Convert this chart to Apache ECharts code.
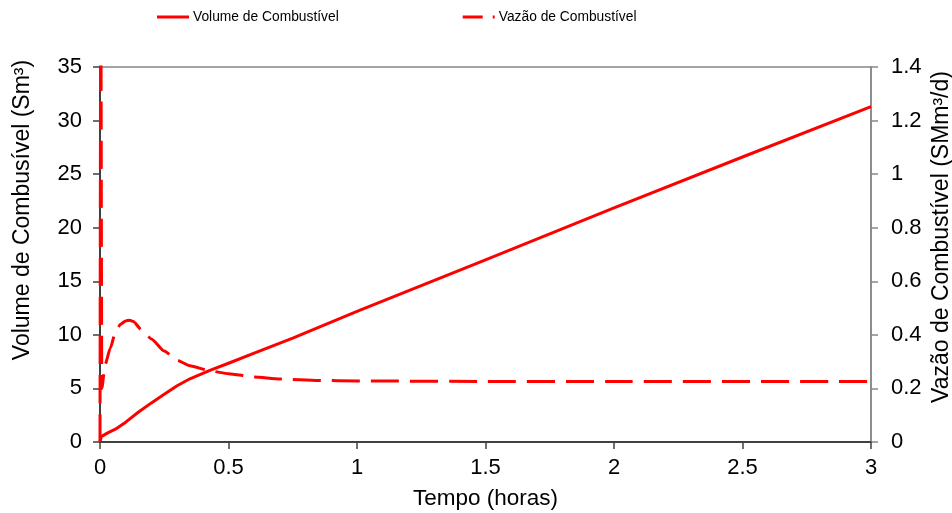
<!DOCTYPE html>
<html>
<head>
<meta charset="utf-8">
<script src="https://cdn.jsdelivr.net/npm/echarts@6/dist/echarts.min.js"></script>
<style>
  html, body { margin: 0; padding: 0; background: #fff; }
  #chart { width: 952px; height: 513px; }
</style>
</head>
<body>
<div id="chart"></div>
<script>
// Fuel volume (Sm³) over time (hours)
const volumeTime   = [0, 0.005, 0.01, 0.03, 0.06, 0.1, 0.15, 0.2, 0.25, 0.3, 0.35, 0.43, 0.5, 0.6, 0.75, 1, 1.5, 2, 2.5, 3];
const volumeValues = [0, 0.5, 0.65, 0.85, 1.2, 1.85, 2.8, 3.65, 4.45, 5.25, 5.9, 6.7, 7.35, 8.3, 9.7, 12.2, 17.0, 21.85, 26.6, 31.3];

// Fuel flow rate (SMm³/d) over time (hours)
const flowTime   = [0, 0.003, 0.007, 0.02, 0.04, 0.06, 0.08, 0.1, 0.115, 0.13, 0.16, 0.2, 0.25, 0.3, 0.35, 0.43, 0.5, 0.6, 0.7, 0.85, 1, 1.5, 2, 3];
const flowValues = [0, 1.8, 0.2, 0.29, 0.35, 0.41, 0.44, 0.452, 0.455, 0.45, 0.42, 0.385, 0.34, 0.305, 0.285, 0.265, 0.255, 0.243, 0.235, 0.23, 0.228, 0.226, 0.226, 0.226];

// Axis tick labels
const timeTicks   = ['0', '0.5', '1', '1.5', '2', '2.5', '3'];
const volumeTicks = ['0', '5', '10', '15', '20', '25', '30', '35'];
const flowTicks   = ['0', '0.2', '0.4', '0.6', '0.8', '1', '1.2', '1.4'];

const seriesNames = ['Volume de Combustível', 'Vazão de Combustível'];
const axisTitles = {
  x: 'Tempo (horas)',
  left: 'Volume de Combusível (Sm³)',
  right: 'Vazão de Combustível (SMm³/d)'
};

const FONT = "'Liberation Sans', Arial, sans-serif";
const RED = '#ff0000';
const DARK = '#404040';
const GRAY = '#868686';

const chart = echarts.init(document.getElementById('chart'), null, { renderer: 'canvas' });

const tickFormatter = (labels, step) => v => {
  const idx = Math.round(v / step);
  return labels[idx] !== undefined ? labels[idx] : '';
};

chart.setOption({
  animation: false,
  backgroundColor: '#fff',
  textStyle: { fontFamily: FONT },
  grid: {
    left: 100, right: 81, top: 67, bottom: 71,
    outerBoundsMode: 'none', containLabel: false,
    show: true, borderColor: GRAY, borderWidth: 1.5, backgroundColor: 'transparent'
  },
  legend: {
    left: 157, top: 10, padding: 0,
    orient: 'horizontal',
    itemWidth: 32, itemHeight: 3, itemGap: 124,
    textStyle: { fontFamily: FONT, fontSize: 13.8, color: '#000', padding: [0, 0, 0, -1] },
    data: [
      { name: seriesNames[0], icon: 'rect' },
      { name: seriesNames[1], icon: 'path://M0,0H20V3H0Z M30,0H32V3H30Z' }
    ]
  },
  xAxis: {
    type: 'value', min: 0, max: 3, interval: 0.5,
    name: axisTitles.x, nameLocation: 'middle', nameGap: 45,
    nameTextStyle: { fontFamily: FONT, fontSize: 22.5, color: '#000' },
    axisLine: { lineStyle: { color: DARK, width: 2 } },
    axisTick: { show: true, inside: false, length: 7, lineStyle: { color: DARK, width: 1.5 } },
    axisLabel: { fontFamily: FONT, fontSize: 22, color: '#000', margin: 15, formatter: tickFormatter(timeTicks, 0.5) },
    splitLine: { show: false }
  },
  yAxis: [
    {
      type: 'value', position: 'left', min: 0, max: 35, interval: 5,
      axisLine: { show: true, lineStyle: { color: DARK, width: 2 } },
      axisTick: { show: true, inside: false, length: 7, lineStyle: { color: DARK, width: 1.5 } },
      axisLabel: { fontFamily: FONT, fontSize: 22, color: '#000', margin: 18, formatter: tickFormatter(volumeTicks, 5) },
      splitLine: { show: false }
    },
    {
      type: 'value', position: 'right', min: 0, max: 1.4, interval: 0.2,
      axisLine: { show: true, lineStyle: { color: GRAY, width: 1.5 } },
      axisTick: { show: true, inside: false, length: 7, lineStyle: { color: GRAY, width: 1.5 } },
      axisLabel: { fontFamily: FONT, fontSize: 22, color: '#000', margin: 20, formatter: tickFormatter(flowTicks, 0.2) },
      splitLine: { show: false }
    }
  ],
  graphic: [
    {
      type: 'text', x: 23, y: 210, rotation: Math.PI / 2,
      style: { text: axisTitles.left, font: '23px ' + FONT, fill: '#000', align: 'center', verticalAlign: 'middle' }
    },
    {
      type: 'text', x: 942, y: 237, rotation: Math.PI / 2,
      style: { text: axisTitles.right, font: '23px ' + FONT, fill: '#000', align: 'center', verticalAlign: 'middle' }
    }
  ],
  series: [
    {
      name: seriesNames[0], type: 'line', yAxisIndex: 0,
      data: volumeTime.map((t, i) => [t, volumeValues[i]]),
      showSymbol: false, symbol: 'none',
      smooth: false,
      lineStyle: { color: RED, width: 3, type: 'solid', join: 'round' },
      itemStyle: { color: RED }
    },
    {
      name: seriesNames[1], type: 'line', yAxisIndex: 1,
      data: flowTime.map((t, i) => [t, flowValues[i]]),
      showSymbol: false, symbol: 'none',
      smooth: 0.2, smoothMonotone: 'x',
      clip: true,
      lineStyle: { color: RED, width: 3, type: [28, 11], join: 'round' },
      itemStyle: { color: RED }
    }
  ]
});
</script>
</body>
</html>
